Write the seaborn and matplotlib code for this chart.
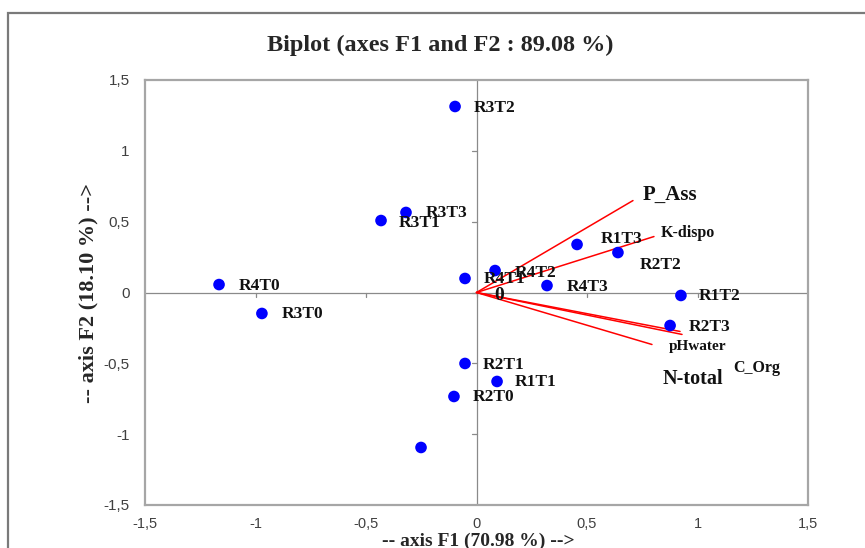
import numpy as np
import matplotlib
matplotlib.use("Agg")
import matplotlib.pyplot as plt
import seaborn as sns
import pandas as pd
from matplotlib.patches import Rectangle

# Observations (scores on F1 / F2)
obs_names = ["R3T2", "R3T3", "R3T1", "R4T0", "R3T0", "R4T1", "R4T2", "R4T3",
             "R1T3", "R2T2", "R1T2", "R2T3", "R2T1", "R1T1", "R2T0", "R1T0"]
obs_f1 = [-0.097, -0.319, -0.432, -1.165, -0.971, -0.052, 0.084, 0.319,
          0.455, 0.640, 0.925, 0.876, -0.052, 0.093, -0.102, -0.251]
obs_f2 = [1.313, 0.565, 0.508, 0.056, -0.148, 0.099, 0.155, 0.049,
          0.339, 0.282, -0.021, -0.233, -0.501, -0.628, -0.734, -1.094]
obs_show = [True] * 15 + [False]

# Variables (loadings)
var_names = ["P_Ass", "K-dispo", "C_Org", "N-total", "pHwater"]
var_f1 = [0.708, 0.803, 0.930, 0.921, 0.794]
var_f2 = [0.649, 0.395, -0.296, -0.275, -0.367]

ticks = [-1.5, -1, -0.5, 0, 0.5, 1, 1.5]
tick_labels = ["-1,5", "-1", "-0,5", "0", "0,5", "1", "1,5"]

# label offsets in pixels (layout only)
obs_offsets = {"R3T2": (19, -2), "R3T3": (20, -1), "R3T1": (18, -2), "R4T0": (20, -1),
               "R3T0": (20, -1), "R4T1": (19, -1), "R4T2": (20, -2), "R4T3": (20, -1),
               "R1T3": (24, 5), "R2T2": (22, -12), "R1T2": (18, -1), "R2T3": (19, -1),
               "R2T1": (18, -2), "R1T1": (18, -1), "R2T0": (19, -1), "R1T0": (19, -1)}
var_offsets = {"P_Ass": (10, 6, 15), "K-dispo": (7, 4, 11.5), "C_Org": (51, -34, 11.5),
               "N-total": (-17, -48, 14.5), "pHwater": (17, -2, 11)}

sns.set_style("white")
plt.rcParams["font.family"] = ["Liberation Serif", "DejaVu Serif"]

df = pd.DataFrame({"F1": obs_f1, "F2": obs_f2, "name": obs_names})

fig = plt.figure(figsize=(8.65, 5.48), dpi=100)
ax = fig.add_axes([145 / 865, 43 / 548, 663 / 865, 425 / 548])

# outer frame (left and top edges visible)
fig.add_artist(Rectangle((8 / 865, -0.5), 2.0, 0.976 + 0.5, transform=fig.transFigure,
                         fill=False, edgecolor="#7a7a7a", linewidth=1.6, clip_on=False))

axis_col = "#8a8a8a"
ax.axhline(0, color=axis_col, linewidth=0.9, zorder=1)
ax.axvline(0, color=axis_col, linewidth=0.9, zorder=1)
# small tick marks on the zero axes
tx = 5 / 221
ty = 5 / 141.7
for t in ticks[1:-1]:
    ax.plot([t, t], [0, -ty], color=axis_col, linewidth=0.9, zorder=1)
    ax.plot([0, -tx], [t, t], color=axis_col, linewidth=0.9, zorder=1)

# variable vectors
for n, x, y in zip(var_names, var_f1, var_f2):
    ax.plot([0, x], [0, y], color="#ff0000", linewidth=1.1, zorder=2)
    dx, dy, fs = var_offsets[n]
    ax.annotate(n, (x, y), xytext=(dx, dy), textcoords="offset pixels",
                ha="left", va="center", fontsize=fs, fontweight="bold", color="#111111")

sns.scatterplot(data=df, x="F1", y="F2", color="#0000ff", s=70, edgecolor="none",
                ax=ax, zorder=3, legend=False)

for n, x, y, show in zip(obs_names, obs_f1, obs_f2, obs_show):
    if not show:
        continue
    dx, dy = obs_offsets[n]
    ax.annotate(n, (x, y), xytext=(dx, dy), textcoords="offset pixels",
                ha="left", va="center", fontsize=12.5, fontweight="bold", color="#111111")

ax.annotate("0", (0, 0), xytext=(23, -3), textcoords="offset pixels",
            ha="center", va="center", fontsize=14, fontweight="bold", color="#111111")

ax.set_xlim(-1.5, 1.5)
ax.set_ylim(-1.5, 1.5)
ax.set_xticks(ticks)
ax.set_xticklabels(tick_labels, fontfamily="Liberation Sans", fontsize=10.5, color="#404040")
ax.set_yticks(ticks)
ax.set_yticklabels(tick_labels, fontfamily="Liberation Sans", fontsize=11, color="#404040")
ax.tick_params(axis="x", length=0, pad=9)
ax.tick_params(axis="y", length=0, pad=11)
for sp in ax.spines.values():
    sp.set_color("#a6a6a6")
    sp.set_linewidth(1.6)
ax.set_xlabel("")
ax.set_ylabel("")

fig.text(478 / 865, 1 - 541 / 548, "-- axis F1 (70.98 %) -->", ha="center", va="center",
         fontsize=14, fontweight="bold")
fig.text(88 / 865, 1 - 293 / 548, "-- axis F2 (18.10 %) -->", ha="center", va="center",
         rotation=90, fontsize=16, fontweight="bold")
fig.text(440 / 865, 1 - 45 / 548, "Biplot (axes F1 and F2 : 89.08 %)", ha="center",
         va="center", fontsize=17.5, fontweight="bold")

fig.savefig("out.png", dpi=100)
